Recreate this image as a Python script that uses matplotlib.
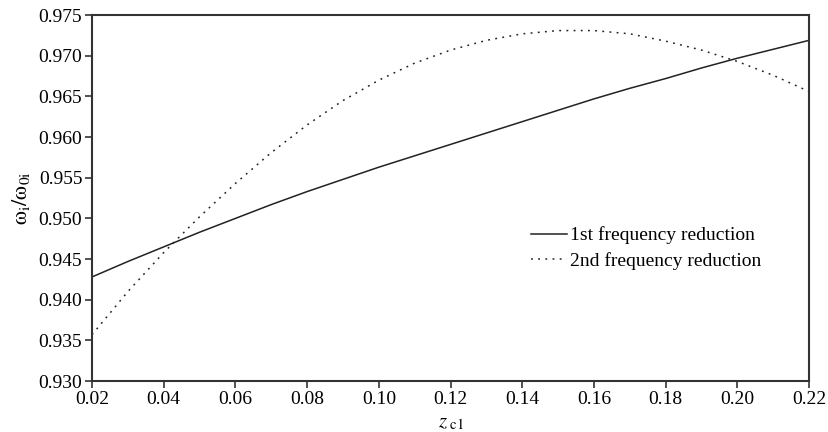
import numpy as np
import matplotlib.pyplot as plt

plt.rcParams['font.family'] = 'Liberation Serif'
plt.rcParams['mathtext.fontset'] = 'stix'
plt.rcParams['font.size'] = 14

# z_c1 values
z = [0.02, 0.03, 0.04, 0.05, 0.06, 0.07, 0.08, 0.09, 0.10, 0.11, 0.12,
     0.13, 0.14, 0.15, 0.16, 0.17, 0.18, 0.19, 0.20, 0.21, 0.22]

# frequency ratios
first = [0.9428, 0.9447, 0.9465, 0.9483, 0.9500, 0.9517, 0.9533, 0.9548,
         0.9563, 0.9577, 0.9591, 0.9605, 0.9619, 0.9633, 0.9647, 0.9660,
         0.9672, 0.9685, 0.9697, 0.9708, 0.9719]
second = [0.9357, 0.9410, 0.9458, 0.9502, 0.9543, 0.9581, 0.9615, 0.9645,
          0.9670, 0.9691, 0.9707, 0.9719, 0.9727, 0.9731, 0.9731, 0.9727,
          0.9718, 0.9707, 0.9693, 0.9676, 0.9656]

xticks = np.arange(0.02, 0.2201, 0.02)
yticks = np.arange(0.930, 0.9751, 0.005)

fig = plt.figure(figsize=(8.29, 4.32), dpi=100)
ax = fig.add_axes([0.111, 0.118, 0.865, 0.847])

ax.plot(z, first, color="#222222", linewidth=1.1, label="1st frequency reduction")
ax.plot(z, second, color="#222222", linewidth=1.1, linestyle=(0, (1.2, 3.5)),
        label="2nd frequency reduction")

ax.set_xlim(0.02, 0.22)
ax.set_ylim(0.930, 0.975)
ax.set_xticks(xticks)
ax.set_xticklabels([f"{t:.2f}" for t in xticks])
ax.set_yticks(yticks)
ax.set_yticklabels([f"{t:.3f}" for t in yticks])
ax.tick_params(direction="out", length=5, width=1.2, color="#333333", pad=2)

for s in ax.spines.values():
    s.set_color("#333333")
    s.set_linewidth(1.5)

ax.set_xlabel(r"$z_{\ \rm c1}$", labelpad=4, fontsize=15)
ax.set_ylabel(r"$\mathrm{ω}_{\rm i}/\mathrm{ω}_{\rm 0i}$", labelpad=5, fontsize=16)

ax.legend(loc="upper left", bbox_to_anchor=(0.588, 0.47), frameon=False,
          handlelength=1.85, handletextpad=0.15, labelspacing=0.4, fontsize=14)

plt.savefig("out.png", dpi=100)
